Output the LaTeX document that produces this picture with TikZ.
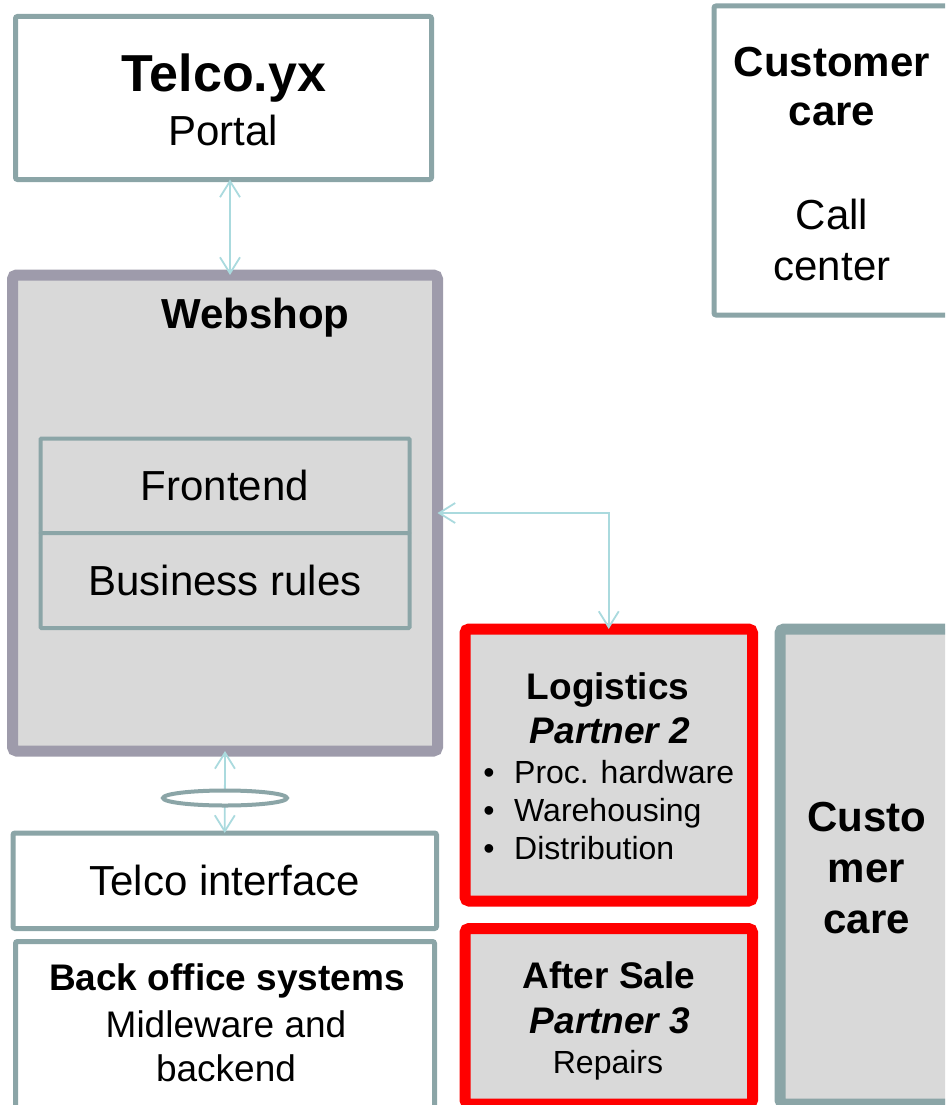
\documentclass[tikz,border=0pt]{standalone}
\usepackage{fontspec}
\setmainfont{Liberation Sans}
\usetikzlibrary{arrows.meta,shapes.geometric}

\definecolor{frame}{RGB}{139,165,167}
\definecolor{shopframe}{RGB}{158,155,171}
\definecolor{panel}{RGB}{217,217,217}
\definecolor{wire}{RGB}{170,218,222}

\newcommand\hugetxt{\fontsize{52}{60}\selectfont}
\newcommand\bigtxt{\fontsize{42}{50}\selectfont}
\newcommand\midtxt{\fontsize{37}{44}\selectfont}
\newcommand\smalltxt{\fontsize{32}{38}\selectfont}

\tikzset{
  whitebox/.style={draw=frame,line width=5pt,fill=white,rounded corners=2pt,outer sep=0pt,inner sep=0pt},
  greybox/.style={draw=frame,line width=11pt,fill=panel,rounded corners=4pt,outer sep=0pt,inner sep=0pt},
  partnerbox/.style={greybox,draw=red},
  layerbox/.style={draw=frame,line width=4pt,fill=panel,rounded corners=1pt,outer sep=0pt,inner sep=0pt},
  txt/.style={anchor=base,inner sep=0pt},
  link/.style={draw=wire,line width=1.8pt,{Straight Barb[length=16pt,width=20pt]}-{Straight Barb[length=16pt,width=20pt]}},
}

\begin{document}
\begin{tikzpicture}[x=1pt,y=-1pt]
  \useasboundingbox (0,0) rectangle (945,1105);
  \clip (0,0) rectangle (945,1105);

  %% boxes
  \node (portal)  at (223.5,98)    [whitebox,minimum width=416,minimum height=163] {};
  \node (care)    at (837,160.5)   [whitebox,minimum width=246,minimum height=309] {};
  \node (webshop) at (225,513)     [greybox,draw=shopframe,minimum width=425,minimum height=476] {};
  \node (front)   at (225,485.75)  [layerbox,minimum width=369,minimum height=94.5] {\bigtxt Frontend};
  \node (rules)   at (225,580.5)   [layerbox,minimum width=369,minimum height=95] {\bigtxt Business rules};
  \node (telcoif) at (224.75,880.75) [whitebox,minimum width=423.5,minimum height=95.5] {\bigtxt Telco interface};
  \node (backoff) at (225,1025.75) [whitebox,minimum width=419,minimum height=168.5] {};
  \node (logist)  at (608.75,765)  [partnerbox,minimum width=287.5,minimum height=272] {};
  \node (aftersale) at (608.75,1016.25) [partnerbox,minimum width=287.5,minimum height=175.5] {};
  \node (custcare) at (870,866.5)  [greybox,minimum width=180,minimum height=475] {};

  %% links
  \draw[link] ([xshift=6.5pt]portal.south) -- ([xshift=5pt]webshop.north);
  \draw[link] (webshop.east) -| (logist.north);
  \draw[link] (webshop.south) -- (telcoif.north);
  \node (ring) at (225,798) [ellipse,draw=frame,line width=4pt,fill=white,minimum width=124,minimum height=15,inner sep=0pt] {};

  %% texts
  \node (portalA) at (224,92)  [txt] {\hugetxt\bfseries Telco.yx};
  \node (portalB) at (223,146) [txt] {\bigtxt Portal};

  \node (careA) at (832,77)  [txt] {\bigtxt\bfseries Customer};
  \node (careB) at (832,125) [txt] {\bigtxt\bfseries care};
  \node (careC) at (832,229) [txt] {\bigtxt Call};
  \node (careD) at (832,280) [txt] {\bigtxt center};

  \node (shopA) at (255.5,328) [txt] {\bigtxt\bfseries Webshop};

  \node (backA) at (227,990)  [txt] {\midtxt\bfseries Back office systems};
  \node (backB) at (226,1037) [txt] {\midtxt Midleware and};
  \node (backC) at (226,1081) [txt] {\midtxt backend};

  \node (logA) at (608,699) [txt] {\midtxt\bfseries Logistics};
  \node (logB) at (610,743) [txt] {\midtxt\bfseries\itshape Partner 2};
  \node (bul1) at (489,783) [txt] {\smalltxt\textbullet};
  \node (bul2) at (489,821) [txt] {\smalltxt\textbullet};
  \node (bul3) at (489,859) [txt] {\smalltxt\textbullet};
  \node (logC) at (514,783) [txt,anchor=base west] {\smalltxt Proc. hardware};
  \node (logD) at (514,821) [txt,anchor=base west] {\smalltxt Warehousing};
  \node (logE) at (514,859) [txt,anchor=base west] {\smalltxt Distribution};

  \node (aftA) at (609,988)  [txt] {\midtxt\bfseries After Sale};
  \node (aftB) at (610,1033) [txt] {\midtxt\bfseries\itshape Partner 3};
  \node (aftC) at (608,1073) [txt] {\smalltxt Repairs};

  \node (custA) at (866.5,831) [txt] {\bigtxt\bfseries Custo};
  \node (custB) at (866.5,882) [txt] {\bigtxt\bfseries mer};
  \node (custC) at (866.5,933) [txt] {\bigtxt\bfseries care};
\end{tikzpicture}
\end{document}
